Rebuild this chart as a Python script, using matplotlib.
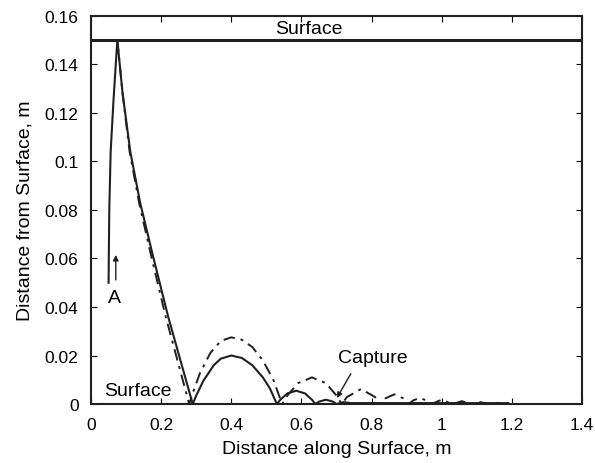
import matplotlib
matplotlib.use("Agg")
import matplotlib.pyplot as plt
from matplotlib.ticker import FuncFormatter

plt.rcParams['font.family'] = ['Liberation Sans', 'DejaVu Sans']

# Traject 1 (doorgetrokken lijn)
x_solid = [0.05, 0.052, 0.056, 0.064, 0.075, 0.09, 0.112, 0.14, 0.175, 0.22, 0.29,
           0.30, 0.32, 0.35, 0.37, 0.40, 0.43, 0.46, 0.49, 0.51, 0.53,
           0.54, 0.56, 0.585, 0.61, 0.63, 0.64,
           0.65, 0.67, 0.69, 0.70,
           0.72, 0.74, 1.19]
y_solid = [0.05, 0.08, 0.104, 0.125, 0.15, 0.128, 0.104, 0.083, 0.062, 0.036, 0.0,
           0.0035, 0.0095, 0.0160, 0.0187, 0.0200, 0.0190, 0.0160, 0.0110, 0.0065, 0.0,
           0.0018, 0.0044, 0.0055, 0.0044, 0.0018, 0.0,
           0.0010, 0.0018, 0.0010, 0.0,
           0.0008, 0.0004, 0.0004]

# Traject 2 (streep-punt lijn)
x_dash = [0.075, 0.09, 0.11, 0.137, 0.17, 0.213, 0.28,
          0.29, 0.31, 0.34, 0.37, 0.40, 0.43, 0.46, 0.49, 0.52, 0.545,
          0.56, 0.59, 0.63, 0.67, 0.70, 0.715,
          0.73, 0.77, 0.81, 0.825,
          0.84, 0.865, 0.89, 0.905,
          0.92, 0.9375, 0.955, 0.97,
          1.0, 1.03, 1.0575, 1.085, 1.11, 1.135, 1.1575, 1.18]
y_dash = [0.15, 0.128, 0.104, 0.083, 0.062, 0.036, 0.0,
          0.0045, 0.0125, 0.0210, 0.0260, 0.0275, 0.0265, 0.0235, 0.0180, 0.0100, 0.0,
          0.0035, 0.0086, 0.0110, 0.0086, 0.0035, 0.0,
          0.0029, 0.0062, 0.0029, 0.0,
          0.0024, 0.0040, 0.0024, 0.0,
          0.0016, 0.0025, 0.0016, 0.0,
          0.0018, 0.0, 0.0012, 0.0, 0.0008, 0.0, 0.0005, 0.0]

surface_y = 0.15

fig = plt.figure(figsize=(5.95, 4.64), dpi=100)
ax = fig.add_axes([0.153, 0.127, 0.825, 0.837])

ax.plot(x_dash, y_dash, color="#231f20", lw=1.4, linestyle=(0, (6, 3, 1.5, 3)))
ax.plot(x_solid, y_solid, color="#231f20", lw=1.5)
ax.axhline(surface_y, color="#231f20", lw=2.2)

ax.text(0.62, 0.1512, "Surface", fontsize=14, ha="center", va="bottom")
ax.text(0.134, 0.0054, "Surface", fontsize=14, ha="center", va="center")
ax.text(0.068, 0.0437, "A", fontsize=14, ha="center", va="center")
ax.annotate("", xy=(0.0705, 0.0626), xytext=(0.0705, 0.050),
            arrowprops=dict(arrowstyle="-|>", color="#231f20", lw=1, mutation_scale=8))
ax.text(0.805, 0.0193, "Capture", fontsize=14, ha="center", va="center")
ax.annotate("", xy=(0.697, 0.0015), xytext=(0.745, 0.0135),
            arrowprops=dict(arrowstyle="-|>", color="#231f20", lw=1, mutation_scale=8))

ax.set_xlim(0, 1.4)
ax.set_ylim(0, 0.16)
ax.set_xticks([0, 0.2, 0.4, 0.6, 0.8, 1.0, 1.2, 1.4])
ax.set_yticks([0, 0.02, 0.04, 0.06, 0.08, 0.1, 0.12, 0.14, 0.16])
fmt = FuncFormatter(lambda v, p: "%g" % v)
ax.xaxis.set_major_formatter(fmt)
ax.yaxis.set_major_formatter(fmt)
ax.tick_params(direction="in", top=True, right=True, length=4, labelsize=12.5, pad=9)

ax.set_xlabel("Distance along Surface, m", fontsize=14, labelpad=6)
ax.set_ylabel("Distance from Surface, m", fontsize=14, labelpad=8)
for s in ax.spines.values():
    s.set_linewidth(1.5)
    s.set_color("#231f20")

fig.savefig("out.png", dpi=100)
